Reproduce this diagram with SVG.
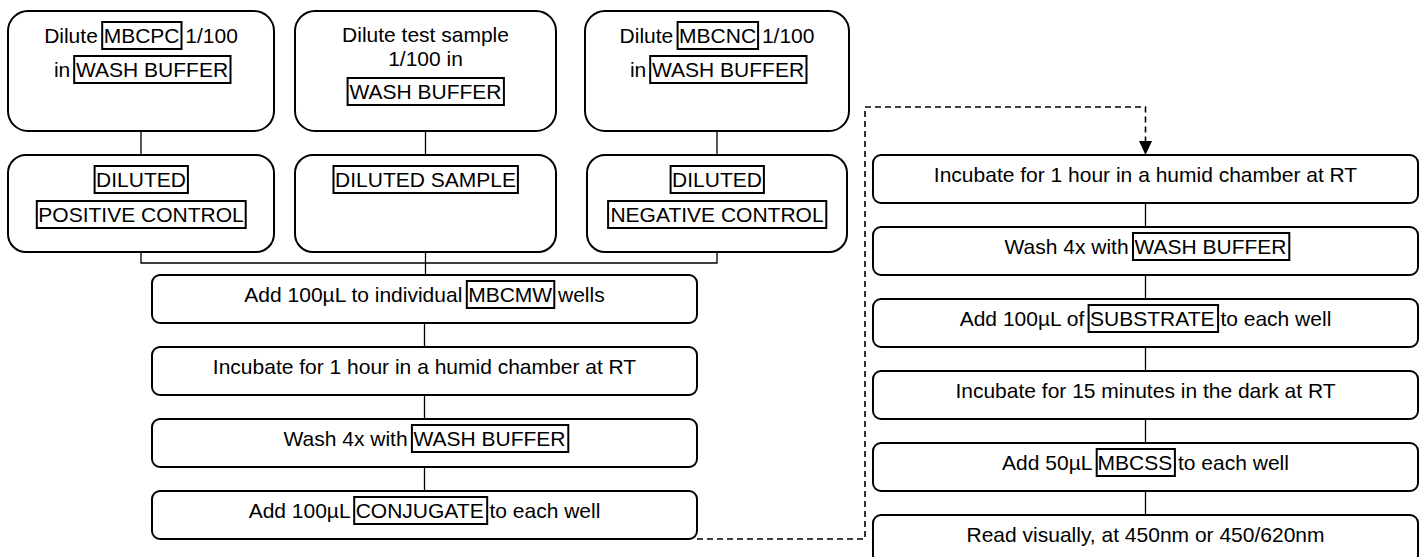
<svg xmlns="http://www.w3.org/2000/svg" width="1425" height="557" viewBox="0 0 1425 557">
<style>
.node{fill:#fff;stroke:#000;stroke-width:2}
.tag{fill:none;stroke:#000;stroke-width:2}
.lbl{font-family:"Liberation Sans",Arial,sans-serif;font-size:21px;fill:#000;text-anchor:middle}
.conn{fill:none;stroke:#000;stroke-width:1.3}
.dash{stroke-dasharray:6 4;stroke-width:1.6}
</style>
<defs>
<marker id="arr" viewBox="0 0 14 13" refX="14" refY="6.5" markerWidth="14" markerHeight="13" markerUnits="userSpaceOnUse" orient="auto">
<path d="M0,0 L14,6.5 L0,13 Z" fill="#000"/>
</marker>
</defs>
<rect width="1425" height="557" fill="#fff"/>
<g id="connectors">
<path class="conn" d="M141,131V155M425.5,131V155M717,131V155"/>
<path class="conn" d="M141,252V263H717V252M425.5,252V275"/>
<path class="conn" d="M424.5,323V347M424.5,395V419M424.5,467V491"/>
<path class="conn" d="M1145.5,203V227M1145.5,275V299M1145.5,347V371M1145.5,419V443M1145.5,491V515"/>
<path class="conn dash" d="M697,539H865V107H1145.5V155" marker-end="url(#arr)"/>
</g>
<g id="n1">
<rect class="node" x="8" y="11" width="266" height="120" rx="20"/>
<text class="lbl" x="141" y="43">Dilute MBCPC 1/100</text>
<rect class="tag" x="102.2" y="22" width="79.3" height="27"/>
<text class="lbl" x="141" y="77">in WASH BUFFER</text>
<rect class="tag" x="74.2" y="56" width="156.3" height="27"/>
</g>
<g id="n2">
<rect class="node" x="295" y="11" width="261" height="120" rx="20"/>
<text class="lbl" x="425.5" y="42">Dilute test sample</text>
<text class="lbl" x="425.5" y="66">1/100 in</text>
<text class="lbl" x="425.5" y="99">WASH BUFFER</text>
<rect class="tag" x="347.6" y="78" width="156.3" height="27"/>
</g>
<g id="n3">
<rect class="node" x="585" y="11" width="264" height="120" rx="20"/>
<text class="lbl" x="717" y="43">Dilute MBCNC 1/100</text>
<rect class="tag" x="677.6" y="22" width="80.5" height="27"/>
<text class="lbl" x="717" y="77">in WASH BUFFER</text>
<rect class="tag" x="650.2" y="56" width="156.3" height="27"/>
</g>
<g id="n4">
<rect class="node" x="8" y="155" width="266" height="97" rx="18"/>
<text class="lbl" x="141" y="187">DILUTED</text>
<rect class="tag" x="94.6" y="166" width="93.3" height="27"/>
<text class="lbl" x="141" y="222">POSITIVE CONTROL</text>
<rect class="tag" x="36.8" y="201" width="208.9" height="27"/>
</g>
<g id="n5">
<rect class="node" x="295" y="155" width="261" height="97" rx="18"/>
<text class="lbl" x="425.5" y="187">DILUTED SAMPLE</text>
<rect class="tag" x="333.5" y="166" width="184.4" height="27"/>
</g>
<g id="n6">
<rect class="node" x="587" y="155" width="260" height="97" rx="18"/>
<text class="lbl" x="717" y="187">DILUTED</text>
<rect class="tag" x="670.6" y="166" width="93.3" height="27"/>
<text class="lbl" x="717" y="222">NEGATIVE CONTROL</text>
<rect class="tag" x="608.1" y="201" width="218.2" height="27"/>
</g>
<g id="n7">
<rect class="node" x="152" y="275" width="545" height="48" rx="8"/>
<text class="lbl" x="424.5" y="302">Add 100µL to individual MBCMW wells</text>
<rect class="tag" x="466.8" y="281" width="87.5" height="27"/>
</g>
<g id="n8">
<rect class="node" x="152" y="347" width="545" height="48" rx="8"/>
<text class="lbl" x="424.5" y="374">Incubate for 1 hour in a humid chamber at RT</text>
</g>
<g id="n9">
<rect class="node" x="152" y="419" width="545" height="48" rx="8"/>
<text class="lbl" x="424.5" y="446">Wash 4x with WASH BUFFER</text>
<rect class="tag" x="411.9" y="425" width="156.4" height="27"/>
</g>
<g id="n10">
<rect class="node" x="152" y="491" width="545" height="48" rx="8"/>
<text class="lbl" x="424.5" y="518">Add 100µL CONJUGATE to each well</text>
<rect class="tag" x="354.2" y="497" width="133" height="27"/>
</g>
<g id="n11">
<rect class="node" x="873" y="155" width="545" height="48" rx="8"/>
<text class="lbl" x="1145.5" y="182">Incubate for 1 hour in a humid chamber at RT</text>
</g>
<g id="n12">
<rect class="node" x="873" y="227" width="545" height="48" rx="8"/>
<text class="lbl" x="1145.5" y="254">Wash 4x with WASH BUFFER</text>
<rect class="tag" x="1133" y="233" width="156.3" height="27"/>
</g>
<g id="n13">
<rect class="node" x="873" y="299" width="545" height="48" rx="8"/>
<text class="lbl" x="1145.5" y="326">Add 100µL of SUBSTRATE to each well</text>
<rect class="tag" x="1088.6" y="305" width="129.5" height="27"/>
</g>
<g id="n14">
<rect class="node" x="873" y="371" width="545" height="48" rx="8"/>
<text class="lbl" x="1145.5" y="398">Incubate for 15 minutes in the dark at RT</text>
</g>
<g id="n15">
<rect class="node" x="873" y="443" width="545" height="48" rx="8"/>
<text class="lbl" x="1145.5" y="470">Add 50µL MBCSS to each well</text>
<rect class="tag" x="1096.7" y="449" width="78.2" height="27"/>
</g>
<g id="n16">
<rect class="node" x="873" y="515" width="545" height="48" rx="8"/>
<text class="lbl" x="1145.5" y="542">Read visually, at 450nm or 450/620nm</text>
</g>
</svg>
